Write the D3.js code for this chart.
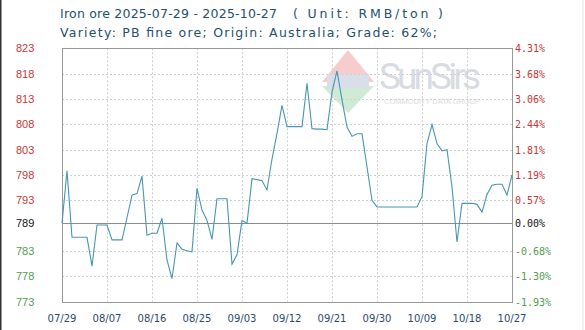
<!DOCTYPE html>
<html>
<head>
<meta charset="utf-8">
<script src="https://cdn.jsdelivr.net/npm/d3@7"></script>
<style>
  body { margin: 0; background: #fff; }
  svg { display: block; }
</style>
</head>
<body>
<svg width="585" height="330"></svg>
<script>
// chart texts
const titleText = "Iron ore 2025-07-29 - 2025-10-27";
const unitText = "( Unit: RMB/ton )";
const subText = "Variety: PB fine ore; Origin: Australia; Grade: 62%;";

// daily prices, 07/29 .. 10/27
const startDate = "2025-07-29";
const prices = [
  789, 799.2, 786.3, 786.3, 786.3, 786.3, 780.7, 788.7, 788.7, 788.7,
  785.8, 785.8, 785.8, 790.1, 794.5, 794.8, 798.2, 786.7, 787.1, 787.1,
  790.0, 781.9, 778.3, 785.2, 784.0, 783.7, 783.5, 795.8, 791.6, 789.6,
  785.9, 793.8, 793.8, 793.8, 781.1, 782.9, 789.6, 789.0, 797.7, 797.5,
  797.3, 795.5, 801.5, 806.5, 811.9, 807.8, 807.8, 807.8, 807.8, 816.2,
  807.4, 807.3, 807.3, 807.2, 814.5, 818.6, 813.0, 807.7, 805.9, 806.4,
  806.4, 800.0, 793.5, 792.2, 792.2, 792.2, 792.2, 792.2, 792.2, 792.2,
  792.2, 792.2, 794.2, 804.5, 808.2, 804.5, 803.1, 803.3, 796.1, 785.4,
  792.9, 792.9, 792.9, 792.7, 791.2, 794.6, 796.4, 796.6, 796.6, 794.5,
  798.4
];

// y ticks (bottom -> top), baseline = 789
const baseValue = 789;
const yTickValues = [773.8, 778.7, 783.6, 789, 793.5, 798.4, 803.3, 808.3, 813.2, 818.0, 823.0];
const yLeftLabels = ["773", "778", "783", "789", "793", "798", "803", "808", "813", "818", "823"];
const yRightLabels = ["-1.93%", "-1.30%", "-0.68%", "0.00%", "0.57%", "1.19%", "1.81%", "2.44%", "3.06%", "3.68%", "4.31%"];
const xTickLabels = ["07/29", "08/07", "08/16", "08/25", "09/03", "09/12", "09/21", "09/30", "10/09", "10/18", "10/27"];

const red = "#c83636", green = "#4f9e4f";

const svg = d3.select("svg");
const parse = d3.timeParse("%Y-%m-%d");
const t0 = parse(startDate);
const data = prices.map((v, i) => ({ date: d3.timeDay.offset(t0, i), value: v }));

const plotL = 62, plotR = 512, plotT = 48.3, plotB = 301.7;

const x = d3.scaleTime()
  .domain(d3.extent(data, d => d.date))
  .range([plotL, plotR]);

const y = d3.scaleLinear()
  .domain([yTickValues[0], yTickValues[yTickValues.length - 1]])
  .range([plotB, plotT]);

// frame edges of the picture
svg.append("rect").attr("x", 0).attr("y", 0).attr("width", 1.5).attr("height", 330).attr("fill", "#333");
svg.append("rect").attr("x", 582.5).attr("y", 0).attr("width", 1).attr("height", 330).attr("fill", "#dfe6ef");

// watermark
const wm = svg.append("g").attr("opacity", 0.55);
wm.append("path").attr("d", "M348,50 L374,82 L322,82 Z").attr("fill", "#f0a4a4");
wm.append("path").attr("d", "M322,86 L374,86 L348,113 Z").attr("fill", "#a8dcb4");
wm.append("rect").attr("x", 327).attr("y", 74).attr("width", 42).attr("height", 14).attr("fill", "#b9c6d8");
wm.append("text").attr("x", 379).attr("y", 89)
  .attr("font-family", "Roboto, Arial, sans-serif").attr("font-size", 37)
  .attr("textLength", 102).attr("fill", "#b9c0cc").text("SunSirs");
wm.append("text").attr("x", 384).attr("y", 104)
  .attr("font-family", "Arial, sans-serif").attr("font-size", 7.5)
  .attr("textLength", 96).attr("fill", "#b9c0cc").text("COMMODITY DATA GROUP");

// grid
const grid = svg.append("g");
grid.selectAll(".hg")
  .data(yTickValues.filter(v => v !== baseValue))
  .enter().append("line")
  .attr("x1", plotL).attr("x2", plotR)
  .attr("y1", d => Math.round(y(d)) + 0.5).attr("y2", d => Math.round(y(d)) + 0.5)
  .attr("stroke", "#cfcfcf").attr("stroke-dasharray", "2,2");

const xTicks = xTickLabels.map((_, i) => d3.timeDay.offset(t0, i * 9));
grid.selectAll(".vg")
  .data(xTicks)
  .enter().append("line")
  .attr("x1", d => Math.round(x(d)) + 0.5).attr("x2", d => Math.round(x(d)) + 0.5)
  .attr("y1", plotT).attr("y2", plotB)
  .attr("stroke", "#cfcfcf").attr("stroke-dasharray", "2,2");

// baseline
svg.append("line")
  .attr("x1", plotL).attr("x2", plotR)
  .attr("y1", Math.round(y(baseValue)) + 0.5).attr("y2", Math.round(y(baseValue)) + 0.5)
  .attr("stroke", "#8c8c8c");

// border
svg.append("rect")
  .attr("x", plotL + 0.5).attr("y", Math.round(plotT) + 0.5)
  .attr("width", plotR - plotL).attr("height", Math.round(plotB) - Math.round(plotT))
  .attr("fill", "none").attr("stroke", "#999");

// price line
const line = d3.line()
  .x(d => x(d.date))
  .y(d => y(d.value));

svg.append("path")
  .datum(data)
  .attr("d", line)
  .attr("fill", "none")
  .attr("stroke", "#4796b4")
  .attr("stroke-width", 1.1);

// left labels
const tickColor = v => v > baseValue ? red : (v < baseValue ? green : "#111");
svg.selectAll(".yl")
  .data(yTickValues)
  .enter().append("text")
  .attr("x", 16).attr("y", d => y(d) + 4)
  .attr("font-family", "Liberation Sans, Arial, sans-serif").attr("font-size", 11)
  .attr("fill", d => tickColor(d))
  .text((d, i) => yLeftLabels[i]);

// right labels
svg.selectAll(".yr")
  .data(yTickValues)
  .enter().append("text")
  .attr("x", 515).attr("y", d => y(d) + 4)
  .attr("font-family", "DejaVu Sans Mono, monospace").attr("font-size", 10)
  .attr("fill", d => tickColor(d))
  .text((d, i) => yRightLabels[i]);

// x labels
svg.selectAll(".xl")
  .data(xTicks)
  .enter().append("text")
  .attr("x", d => x(d)).attr("y", 322)
  .attr("text-anchor", "middle")
  .attr("font-family", "DejaVu Sans, Verdana, sans-serif").attr("font-size", 10)
  .attr("fill", "#2b4b6b")
  .text((d, i) => xTickLabels[i]);

// titles
const titleColor = "#24506c";
svg.append("text").attr("x", 60).attr("y", 18)
  .attr("font-family", "DejaVu Sans, Verdana, sans-serif").attr("font-size", 12.5)
  .attr("textLength", 217).attr("lengthAdjust", "spacing")
  .attr("fill", titleColor).text(titleText);
svg.append("text").attr("x", 293).attr("y", 18)
  .attr("font-family", "DejaVu Sans, Verdana, sans-serif").attr("font-size", 12.5)
  .attr("textLength", 150).attr("lengthAdjust", "spacing")
  .attr("fill", titleColor).text(unitText);
svg.append("text").attr("x", 60).attr("y", 37)
  .attr("font-family", "DejaVu Sans, Verdana, sans-serif").attr("font-size", 12.5)
  .attr("textLength", 377).attr("lengthAdjust", "spacing")
  .attr("fill", titleColor).text(subText);
</script>
</body>
</html>
